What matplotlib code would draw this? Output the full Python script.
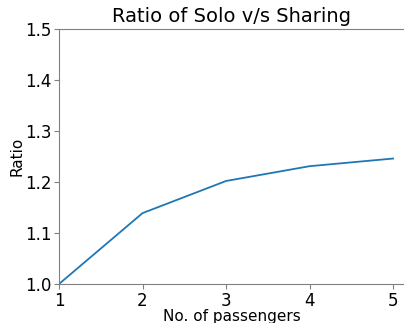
import matplotlib
matplotlib.use("Agg")
import matplotlib.pyplot as plt

passengers = [1, 2, 3, 4, 5]
ratio = [1.0, 1.139, 1.202, 1.231, 1.246]

fig = plt.figure(figsize=(4.04, 3.23), dpi=100)
ax = fig.add_axes([59/404, 1-284/323, 1-59/404, (284-29)/323])
ax.plot(passengers, ratio, color="#1f77b4", lw=1.3)
ax.set_xlim(1, 5.13)
ax.set_ylim(1.0, 1.5)
ax.set_xticks([1, 2, 3, 4, 5])
ax.set_yticks([1.0, 1.1, 1.2, 1.3, 1.4, 1.5])
ax.set_title("Ratio of Solo v/s Sharing", fontsize=14, pad=5)
ax.set_xlabel("No. of passengers", fontsize=11, labelpad=-0.5)
ax.set_ylabel("Ratio", fontsize=11, labelpad=0)
ax.tick_params(labelsize=12, color="0.5", pad=2)
ax.spines["right"].set_visible(False)
for s in ["left", "top", "bottom"]:
    ax.spines[s].set_color("0.5")
fig.savefig("out.png", dpi=100)
